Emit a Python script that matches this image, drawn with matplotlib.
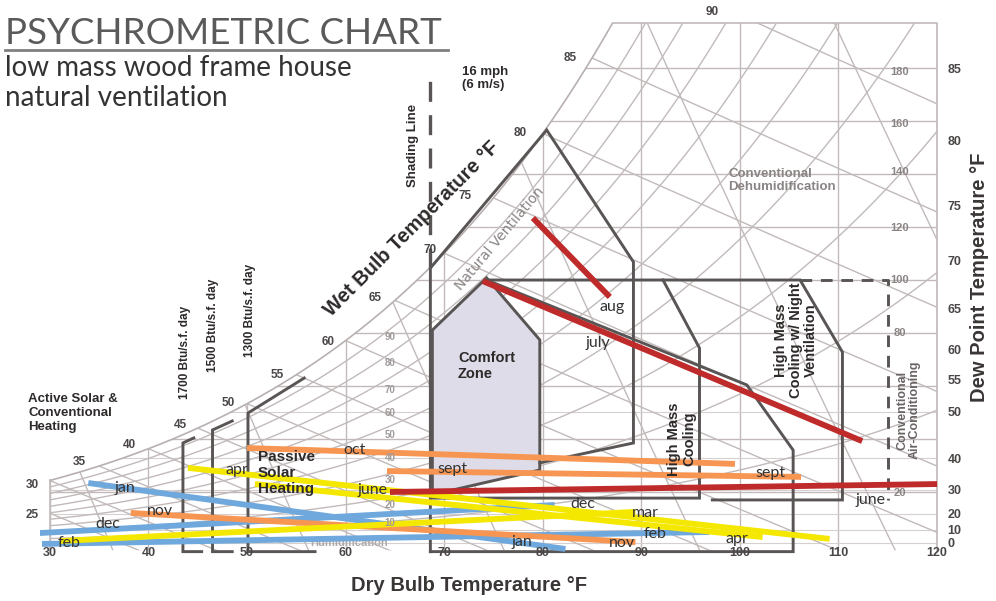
import numpy as np
import matplotlib
matplotlib.use("Agg")
import matplotlib.pyplot as plt
from matplotlib.patches import Polygon

# climate lines for each month: start / end as (dry bulb F, humidity grains/lb)
month_names = ["jan", "dec", "feb", "nov", "oct", "sept", "apr", "may", "mar", "june", "july", "aug"]
start_db = [33.9, 28.9, 29.2, 38.2, 50.0, 64.2, 44.0, 50.8, 31.0, 64.5, 73.9, 79.0]
start_gr = [23.4, 4.5, 0.4, 12.1, 36.6, 27.9, 29.1, 23.0, 1.5, 20.0, 99.6, 123.4]
end_db = [82.3, 81.2, 96.9, 89.4, 99.5, 106.2, 109.1, 102.3, 89.4, 120.0, 112.4, 86.8]
end_gr = [-1.5, 15.1, 4.9, 1.1, 30.6, 25.7, 2.3, 3.0, 12.5, 23.0, 39.2, 93.6]

label_text = ["jan", "jan", "dec", "dec", "feb", "feb", "nov", "nov", "oct", "sept", "sept",
              "apr", "apr", "mar", "june", "june", "july", "aug"]
label_db = [37.6, 77.9, 35.9, 84.1, 32.0, 91.4, 41.2, 88.0, 60.9, 70.8, 103.1,
            49.0, 99.7, 90.4, 62.7, 113.2, 85.6, 87.0]
label_gr = [21.5, 1.1, 7.9, 15.5, 0.8, 4.2, 12.8, 0.8, 35.8, 28.7, 27.2,
            28.3, 2.3, 12.1, 20.8, 17.0, 76.2, 89.8]

season = {"jan": "#6fa8dc", "dec": "#6fa8dc", "feb": "#6fa8dc",
          "nov": "#f79552", "oct": "#f79552", "sept": "#f79552",
          "apr": "#f5e800", "may": "#f5e800", "mar": "#f5e800",
          "june": "#bf2a2a", "july": "#bf2a2a", "aug": "#bf2a2a"}

# chart scales
dry_bulb_ticks = [30, 40, 50, 60, 70, 80, 90, 100, 110, 120]
dew_point_labels = [0, 10, 20, 30, 40, 50, 55, 60, 65, 70, 75, 80, 85]
dew_point_gr = [0.8, 5.7, 11.7, 20.8, 32.8, 50.2, 62.3, 73.6, 89.4, 107.5, 128.3, 152.8, 180.0]
grain_labels = [20, 80, 100, 120, 140, 160, 180]
grain_pos = [19.6, 80.0, 100.0, 119.6, 140.8, 158.9, 178.5]
wet_bulb_labels = [35, 40, 45, 50, 55, 60, 65, 70, 75, 80, 85, 90]
wet_bulb_db = [33.0, 38.1, 43.2, 48.1, 53.1, 58.2, 63.0, 68.6, 72.1, 77.7, 82.8, 97.2]
wet_bulb_gr = [31.3, 37.7, 45.3, 53.6, 64.2, 76.6, 93.2, 111.3, 131.7, 155.5, 183.8, 201.1]
rh_labels = [90, 80, 70, 60, 50, 40, 30, 20, 10]
rh_label_gr = [78.5, 68.7, 58.5, 49.8, 41.5, 32.8, 24.5, 15.1, 8.3]

# design strategy zones (dry bulb F, grains/lb)
vent_db = [68.6, 68.6, 80.4, 89.2, 89.2, 79.7]
vent_gr = [-2.5, 104.5, 156.6, 106.8, 38.5, 31.0]
comfort_db = [68.8, 68.8, 74.3, 79.7, 79.7]
comfort_gr = [19.0, 81.1, 100.8, 77.4, 28.3]
mass_db = [74.3, 92.2, 95.9, 95.9, 68.6]
mass_gr = [100.0, 100.0, 74.3, 17.7, 17.7]
mass_edge_db = [74.3, 100.7, 105.4, 105.4, 68.6]
mass_edge_gr = [100.0, 60.4, 35.8, -2.5, -2.5]
night_db = [92.2, 106.1, 110.4, 110.4, 97.2]
night_gr = [100.0, 100.0, 72.8, 17.0, 17.0]
ac_db = [106.1, 115.0, 115.0]
ac_gr = [100.0, 100.0, 17.0]
shade_db = [68.6, 68.6]
shade_gr = [104.5, 176.0]
heat1700_db = [44.6, 43.5, 43.5, 45.4]
heat1700_gr = [40.4, 38.5, -2.5, -2.5]
heat1500_db = [48.5, 46.5, 46.5, 48.5]
heat1500_gr = [46.8, 43.4, -2.5, -2.5]
passive_db = [55.8, 50.1, 50.1, 56.9]
passive_gr = [63.0, 49.8, -2.5, -2.5]

P_ATM = 101.325
TOP = 197.0
BOT = -2.0


def sat_gr(t, rh=1.0):
    tc = (np.asarray(t, dtype=float) - 32) / 1.8
    pw = rh * 0.61094 * np.exp(17.625 * tc / (tc + 243.04))
    return 7000 * 0.622 * pw / (P_ATM - pw)


def wb_line(t, twb):
    ws = sat_gr(twb) / 7000
    w = ((1093 - 0.556 * twb) * ws - 0.240 * (t - twb)) / (1093 + 0.444 * t - twb)
    return w * 7000


fig = plt.figure(figsize=(9.96, 6.01), dpi=100)
ax = fig.add_axes([40 / 996, 40.1 / 601, 902 / 996, 545.9 / 601])
ax.set_xlim(29, 120.5)
ax.set_ylim(-6, 200)
for s in ax.spines.values():
    s.set_visible(False)

# chart area under the saturation curve
t_sat = np.linspace(30, 120, 400)
w_sat = sat_gr(t_sat)
keep = w_sat <= TOP
t_top = np.interp(TOP, w_sat, t_sat)
region = [(30, BOT), (120, BOT), (120, TOP), (t_top, TOP)]
region += list(zip(t_sat[keep][::-1], w_sat[keep][::-1]))
clip = Polygon(region, closed=True, facecolor="none", edgecolor="none",
               transform=ax.transData)
ax.add_patch(clip)

grid_kw = dict(color="#c2baba", lw=1.0, zorder=1)
lines = []
for t in dry_bulb_ticks:
    lines += ax.plot([t, t], [BOT, TOP], **grid_kw)
for w in range(20, 200, 20):
    lines += ax.plot([30, 120], [w, w], **grid_kw)
for w in dew_point_gr[:6]:
    lines += ax.plot([30, 120], [w, w], color="#d6d0d0", lw=0.8, zorder=1)
t_all = np.linspace(28, 121, 300)
for rh in np.arange(0.1, 1.0, 0.1):
    lines += ax.plot(t_all, sat_gr(t_all, rh), **grid_kw)
for twb in range(25, 95, 5):
    lines += ax.plot(t_all, wb_line(t_all, twb), **grid_kw)
w_all = np.linspace(-5, 205, 50)
for v in np.arange(12.5, 15.1, 0.5):
    tv = v * 14.696 / (0.370486 * (1 + 1.607858 * w_all / 7000)) - 459.67
    lines += ax.plot(tv, w_all, **grid_kw)
for ln in lines:
    ln.set_clip_path(clip)
ax.plot(t_sat[keep], w_sat[keep], color="#b8b0b0", lw=1.2, zorder=2)
ax.plot([t_top, 120, 120], [TOP, TOP, BOT], color="#c2baba", lw=1.2, zorder=2)
ax.plot([30, 30], [BOT, sat_gr(30)], color="#c2baba", lw=1.2, zorder=2)

# zones
zone_kw = dict(color="#5a5555", lw=2.1, zorder=3, solid_joinstyle="miter")
ax.fill(comfort_db, comfort_gr, facecolor="#dedce8", edgecolor="#5a5555", lw=2.1, zorder=2)
for zx, zy in [(vent_db, vent_gr), (mass_db, mass_gr), (mass_edge_db, mass_edge_gr),
               (night_db, night_gr), (heat1700_db, heat1700_gr),
               (heat1500_db, heat1500_gr), (passive_db, passive_gr)]:
    ax.plot(zx, zy, **zone_kw)
ax.plot(ac_db, ac_gr, color="#5a5555", lw=2.1, ls=(0, (4, 3)), zorder=3)
ax.plot(shade_db, shade_gr, color="#5a5555", lw=2.4, ls=(0, (6, 4)), zorder=3)

# month lines
for name, x0, y0, x1, y1 in zip(month_names, start_db, start_gr, end_db, end_gr):
    ax.plot([x0, x1], [y0, y1], color=season[name], lw=4.2,
            solid_capstyle="butt", zorder=5)
for txt, x, y in zip(label_text, label_db, label_gr):
    ax.text(x, y, txt, fontsize=11.5, color="#333333", ha="center", va="center",
            family="Lato", zorder=8)

# scale labels
bold = dict(family="Liberation Sans", weight="bold", zorder=7)
for t in dry_bulb_ticks:
    ax.text(t, -3.0, str(t), fontsize=9, color="#4a4646", ha="center", va="center", **bold)
ax.yaxis.tick_right()
ax.set_yticks(dew_point_gr)
ax.set_yticklabels([str(d) for d in dew_point_labels], fontsize=9, color="#4a4646",
                   family="Liberation Sans", weight="bold")
ax.tick_params(axis="y", length=0, pad=4)
ax.set_xticks([])
for g, y in zip(grain_labels, grain_pos):
    ax.text(116.2, y, str(g), fontsize=8, color="#8a8484", ha="center", va="center", **bold)
for lab, x, y in zip(wet_bulb_labels, wet_bulb_db, wet_bulb_gr):
    ax.text(x, y, str(lab), fontsize=8.5, color="#4a4646", ha="center", va="center", **bold)
ax.text(28.2, 22.6, "30", fontsize=8.5, color="#4a4646", ha="center", va="center", **bold)
ax.text(28.2, 11.3, "25", fontsize=8.5, color="#4a4646", ha="center", va="center", **bold)
for lab, y in zip(rh_labels, rh_label_gr):
    ax.text(64.5, y, str(lab), fontsize=7, color="#a09a9a", ha="center", va="center", **bold)

ax.text(0.476, -0.045, "Dry Bulb Temperature °F", transform=ax.transAxes, fontsize=14.5,
        color="#3a3636", ha="center", va="center", **bold)
ax.text(1.042, 0.52, "Dew Point Temperature °F", transform=ax.transAxes, fontsize=14.5,
        color="#3a3636", ha="center", va="center", rotation=90, **bold)
ax.text(66.7, 119.2, "Wet Bulb Temperature °F", fontsize=14.5, color="#2e2a2a",
        ha="center", va="center", rotation=45, rotation_mode="anchor", **bold)
ax.text(71.8, 176.0, "16 mph\n(6 m/s)", fontsize=9.5, color="#2e2a2a", ha="left",
        va="center", linespacing=1.1, **bold)
ax.text(66.8, 150.9, "Shading Line", fontsize=9.5, color="#2e2a2a", ha="center",
        va="center", rotation=90, **bold)
ax.text(75.6, 115.5, "Natural Ventilation", fontsize=10, color="#8a8484", ha="center",
        va="center", rotation=50, rotation_mode="anchor", family="DejaVu Sans", zorder=7)
ax.text(71.4, 67.4, "Comfort\nZone", fontsize=10.5, color="#2e2a2a", ha="left",
        va="center", linespacing=1.2, **bold)
ax.text(98.8, 137.5, "Conventional\nDehumidification", fontsize=9.5, color="#8a8484",
        ha="left", va="center", linespacing=1.1, **bold)
ax.text(94.1, 40.0, "High Mass\nCooling", fontsize=10.5, color="#2e2a2a", ha="center",
        va="center", rotation=90, linespacing=1.1, **bold)
ax.text(105.7, 77.4, "High Mass\nCooling w/ Night\nVentilation", fontsize=10.5,
        color="#2e2a2a", ha="center", va="center", rotation=90, linespacing=1.1, **bold)
ax.text(117.1, 50.9, "Conventional\nAir-Conditioning", fontsize=9, color="#6a6464",
        ha="center", va="center", rotation=90, linespacing=1.1, **bold)
ax.text(51.1, 27.2, "Passive\nSolar\nHeating", fontsize=11, color="#2e2a2a", ha="left",
        va="center", linespacing=1.15, **bold)
ax.text(27.8, 49.8, "Active Solar &\nConventional\nHeating", fontsize=9.5,
        color="#2e2a2a", ha="left", va="center", linespacing=1.2, **bold)
ax.text(43.7, 72.5, "1700 Btu/s.f. day", fontsize=8.5, color="#2e2a2a", ha="center",
        va="center", rotation=90, **bold)
ax.text(46.6, 83.0, "1500 Btu/s.f. day", fontsize=8.5, color="#2e2a2a", ha="center",
        va="center", rotation=90, **bold)
ax.text(50.3, 88.7, "1300 Btu/s.f. day", fontsize=8.5, color="#2e2a2a", ha="center",
        va="center", rotation=90, **bold)
ax.text(60.4, 0.8, "Humidification", fontsize=8, color="#b0aaaa", ha="center",
        va="center", family="Liberation Sans", weight="bold", zorder=4)

# title block
fig.text(5 / 996, 1 - 33 / 601, "PSYCHROMETRIC CHART", fontsize=26.5, color="#5a5a5a",
         family="Lato", ha="left", va="center")
fig.add_artist(plt.Line2D([5 / 996, 448 / 996], [1 - 50 / 601, 1 - 50 / 601],
                          color="#808080", lw=2))
fig.text(5 / 996, 1 - 68 / 601, "low mass wood frame house", fontsize=20,
         color="#333333", family="Lato", ha="left", va="center")
fig.text(5 / 996, 1 - 98 / 601, "natural ventilation", fontsize=20,
         color="#333333", family="Lato", ha="left", va="center")

fig.savefig("out.png", dpi=100)
